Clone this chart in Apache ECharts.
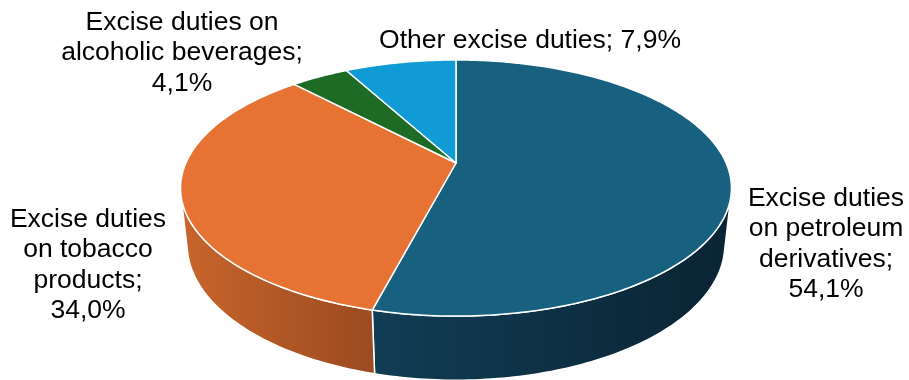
<!DOCTYPE html>
<html><head><meta charset="utf-8">
<script src="https://cdn.jsdelivr.net/npm/echarts@6/dist/echarts.min.js"></script>
<style>html,body{margin:0;padding:0;background:#fff}#c{width:909px;height:380px}</style>
</head><body><div id="c"></div>
<script>
// ---- data ----
const categories = [
  'Excise duties\non petroleum\nderivatives',
  'Excise duties\non tobacco\nproducts',
  'Excise duties on\nalcoholic beverages',
  'Other excise duties'
];
const values = [54.1, 34.0, 4.1, 7.9];

// ---- styles / layout ----
const topColors = ['#17607f', '#e67233', '#1d6b25', '#109bd5'];
const wallColors = [['#113d55', '#0a2433'], ['#c8652c', '#9b4a21'], ['#14531c', '#0f4515'], ['#0d80b3', '#0a6a95']];
const labelSep = ['\n', '\n', '\n', ' '];
const labelAt = [[826, 244], [88, 265], [182, 53], [530, 41]];
// perspective camera model of the 3D pie
const CAM = { cx: 456, cy: 163, f: 1231, d: 4.557, ca: 0.890, sa: 0.456, h: 0.236 };

function proj(theta, bottom) {
  const X = Math.sin(theta), Z = Math.cos(theta), Y = bottom ? -CAM.h : 0;
  const w = CAM.d + Z * CAM.ca - Y * CAM.sa;
  return [CAM.cx + CAM.f * X / w, CAM.cy - CAM.f * (Y * CAM.ca + Z * CAM.sa) / w];
}
function arc(a, b, bottom) {
  const n = Math.max(2, Math.ceil(Math.abs(b - a) / (Math.PI / 180)));
  const pts = [];
  for (let i = 0; i <= n; i++) pts.push(proj(a + (b - a) * i / n, bottom));
  return pts;
}
const total = values.reduce((s, v) => s + v, 0);
const visLimit = Math.acos(-1 / (CAM.d * CAM.ca)); // wall visible for theta in (visLimit, 2pi - visLimit)

function fmt(v) { return v.toFixed(1).replace('.', ','); }

function renderItem(params, api) {
  const i = params.dataIndex;
  let before = 0;
  for (let k = 0; k < i; k++) before += values[k];
  const a = before / total * Math.PI * 2;
  const b = (before + api.value(0)) / total * Math.PI * 2;
  const children = [];
  // top face
  children.push({
    type: 'polygon', z2: 2,
    shape: { points: [[CAM.cx, CAM.cy]].concat(arc(a, b, false)) },
    style: { fill: topColors[i], stroke: '#fff', lineWidth: 1.5, lineJoin: 'round' }
  });
  // outer wall (visible part)
  const wa = Math.max(a, visLimit), wb = Math.min(b, Math.PI * 2 - visLimit);
  if (wb > wa) {
    const pts = arc(wa, wb, false).concat(arc(wb, wa, true));
    children.push({
      type: 'polygon', z2: 1,
      shape: { points: pts },
      style: {
        fill: { type: 'linear', x: 0, y: 0, x2: 1, y2: 0,
          colorStops: [{ offset: 0, color: wallColors[i][0] }, { offset: 1, color: wallColors[i][1] }] },
        stroke: '#fff', lineWidth: 1.5
      }
    });
  }
  // label
  children.push({
    type: 'text', z2: 3,
    x: labelAt[i][0], y: labelAt[i][1],
    style: {
      text: categories[i] + ';' + labelSep[i] + fmt(api.value(0)) + '%',
      fill: '#000', fontSize: 26.5, fontFamily: 'Liberation Sans, Arial, sans-serif',
      lineHeight: 30.5, align: 'center', verticalAlign: 'middle'
    }
  });
  return { type: 'group', children };
}

const chart = echarts.init(document.getElementById('c'), null, { renderer: 'canvas' });
chart.setOption({
  animation: false,
  backgroundColor: '#fff',
  series: [{
    type: 'custom',
    coordinateSystem: 'none',
    renderItem,
    data: values.map((v, i) => ({ name: categories[i], value: [v] }))
  }]
});
</script>
</body></html>
